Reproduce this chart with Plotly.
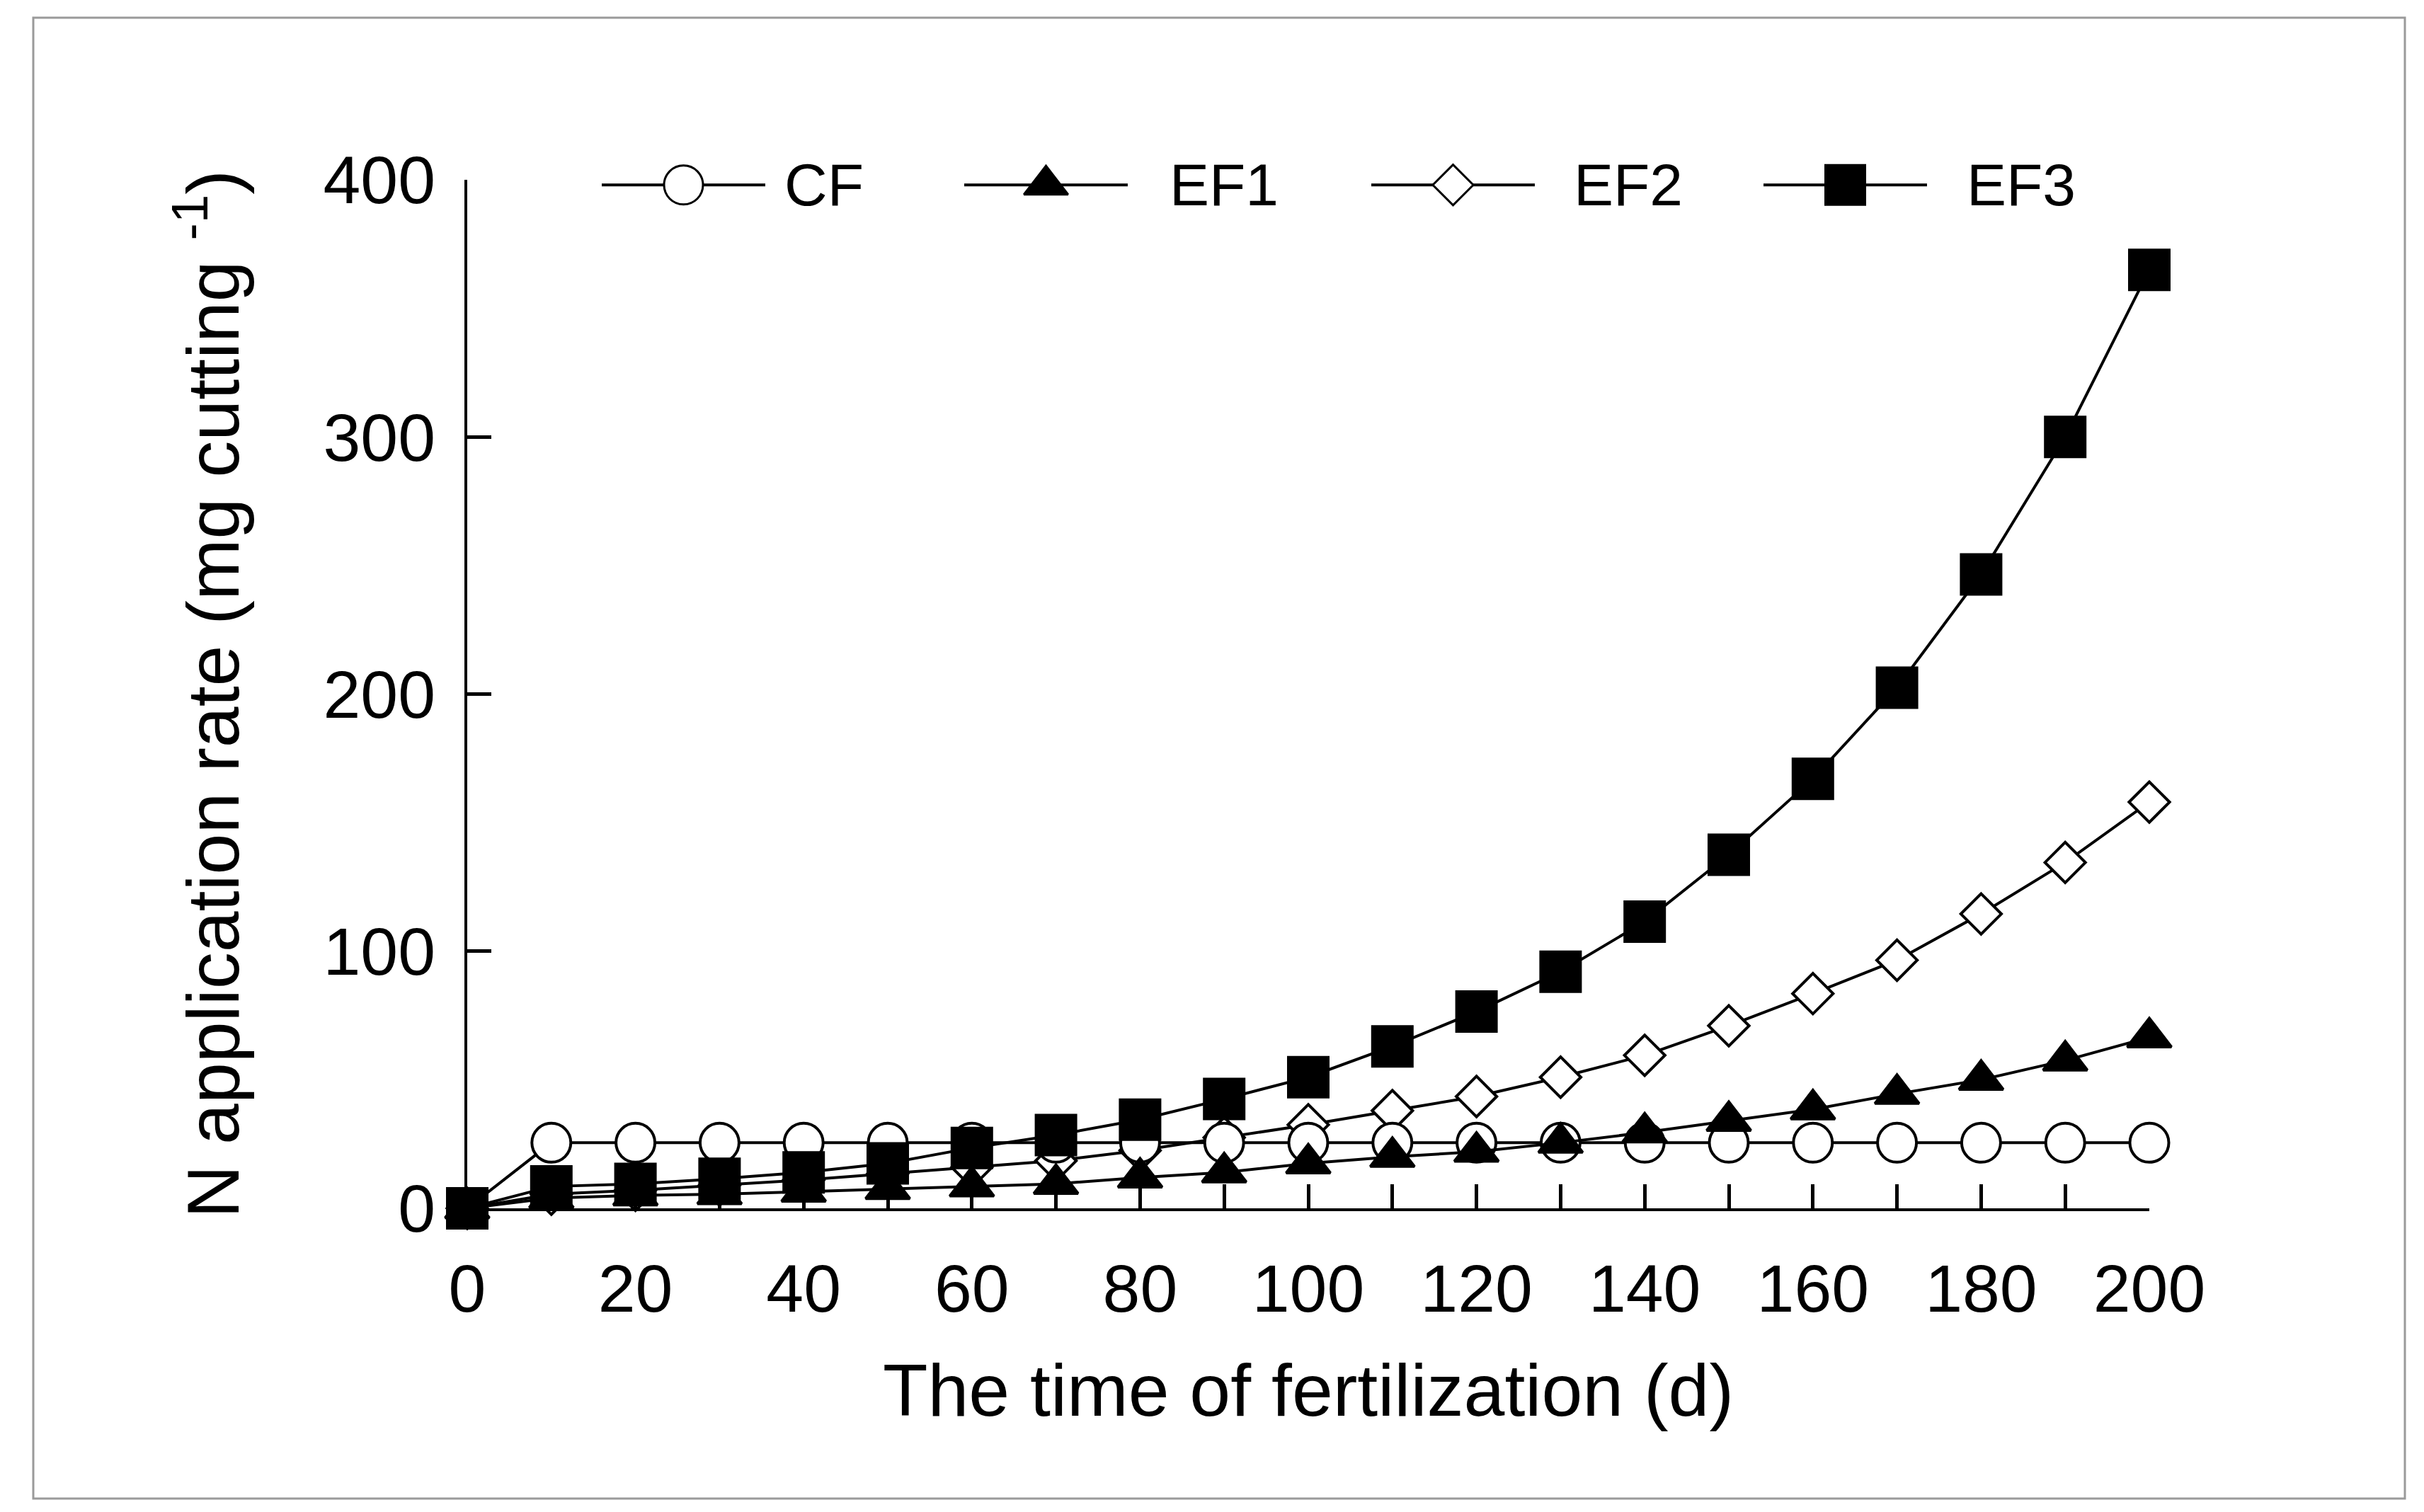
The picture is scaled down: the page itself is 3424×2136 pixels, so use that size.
import plotly.graph_objects as go

# ---------------- data ----------------
days = [0, 10, 20, 30, 40, 50, 60, 70, 80, 90, 100,
        110, 120, 130, 140, 150, 160, 170, 180, 190, 200]
cf = [0, 25.5, 25.5, 25.5, 25.5, 25.5, 25.5, 25.5, 25.5, 25.5, 25.5,
      25.5, 25.5, 25.5, 25.5, 25.5, 25.5, 25.5, 25.5, 25.5, 25.5]
ef1 = [0, 4, 5, 5.5, 6.5, 7.5, 8.5, 9.5, 12, 14, 17.5,
       20, 22, 25.5, 29.5, 34, 38.5, 44.5, 50, 57.5, 66.5]
ef2 = [0, 5.5, 7, 9, 11, 13.5, 16, 18.5, 22.5, 27.5, 32.5,
       38, 43.5, 51, 59.5, 71, 83.5, 96.5, 114.5, 134.5, 158]
ef3 = [0, 8.5, 9.5, 11.5, 14, 17.5, 23.5, 28.5, 34.5, 42.5, 51,
       63, 76.5, 92, 111.5, 137.5, 167, 202.5, 246.5, 300, 365]

series_names = ["CF", "EF1", "EF2", "EF3"]
x_tick_vals = days                      # a tick at every sampling day
x_tick_labels = [str(d) if d % 20 == 0 else "" for d in days]
y_ticks = [0, 100, 200, 300, 400]
X_RANGE = [0, 200]
Y_RANGE = [0, 400]

# ---------------- styles / layout ----------------
W, H = 3424, 2136
L, R, T, B = 652, 396, 246, 437
PW, PH = W - L - R, H - T - B
FONT = "Liberation Sans, Arial, sans-serif"

styles = {
    "CF":  dict(symbol="circle", size=55, color="white"),
    "EF1": dict(symbol="triangle-up", size=54, color="black"),
    "EF2": dict(symbol="diamond", size=44, color="white"),
    "EF3": dict(symbol="square", size=56, color="black"),
}
values = {"CF": cf, "EF1": ef1, "EF2": ef2, "EF3": ef3}

# legend key layout (page pixels)
LEG_LINE_START = [842, 1354, 1929, 2483]
LEG_TEXT_START = [1098, 1642, 2213, 2768]
LEG_LINE_LEN = 231
LEG_Y_FRAC = 0.995

fig = go.Figure()

# draw order (bottom -> top)
for name in ["EF2", "CF", "EF1", "EF3"]:
    st = styles[name]
    fig.add_trace(go.Scatter(
        x=days, y=values[name], name=name, mode="lines+markers",
        line=dict(color="black", width=4),
        marker=dict(symbol=st["symbol"], size=st["size"], color=st["color"],
                    line=dict(color="black", width=4)),
        cliponaxis=False, showlegend=False,
    ))

# ---------------- legend key ----------------
def px_to_x(px):
    f = (px - L) / PW
    return X_RANGE[0] + f * (X_RANGE[1] - X_RANGE[0])

leg_y = Y_RANGE[0] + LEG_Y_FRAC * (Y_RANGE[1] - Y_RANGE[0])
for i, name in enumerate(series_names):
    st = styles[name]
    xs = LEG_LINE_START[i]
    fig.add_trace(go.Scatter(
        x=[px_to_x(xs), px_to_x(xs + LEG_LINE_LEN)], y=[leg_y, leg_y],
        mode="lines", line=dict(color="black", width=4),
        showlegend=False, hoverinfo="skip", cliponaxis=False))
    fig.add_trace(go.Scatter(
        x=[px_to_x(xs + LEG_LINE_LEN / 2)], y=[leg_y], mode="markers",
        marker=dict(symbol=st["symbol"], size=st["size"], color=st["color"],
                    line=dict(color="black", width=3)),
        showlegend=False, hoverinfo="skip", cliponaxis=False))
    fig.add_annotation(
        x=(LEG_TEXT_START[i] - L) / PW, y=LEG_Y_FRAC, xref="paper", yref="paper",
        text=name, showarrow=False, xanchor="left", yanchor="middle",
        font=dict(family=FONT, size=84, color="black"))

# outer grey frame (figure border)
fig.add_shape(type="rect", xref="paper", yref="paper",
              x0=(39 - L) / PW, x1=(3389 - L) / PW,
              y0=(PH + T - 2109) / PH, y1=(PH + T - 17) / PH,
              line=dict(color="#9a9a9a", width=3), fillcolor="rgba(0,0,0,0)",
              layer="below")

axis_common = dict(showgrid=False, zeroline=False, showline=True,
                   linecolor="black", linewidth=4, ticks="inside",
                   ticklen=34, tickwidth=5, tickcolor="black",
                   tickfont=dict(family=FONT, size=95, color="black"))

fig.update_layout(
    width=W, height=H, margin=dict(l=L, r=R, t=T, b=B),
    paper_bgcolor="white", plot_bgcolor="white",
    font=dict(family=FONT, color="black"),
    showlegend=False,
    xaxis=dict(range=X_RANGE, tickmode="array", tickvals=x_tick_vals,
               ticktext=x_tick_labels,
               ticklabelstandoff=28,
               title=dict(text="The time of fertilization (d)",
                          font=dict(family=FONT, size=104), standoff=56),
               **axis_common),
    yaxis=dict(range=Y_RANGE, tickmode="array", tickvals=y_ticks,
               ticktext=[str(v) for v in y_ticks],
               ticklabelstandoff=22,
               title=dict(text="N application rate (mg cutting <sup>-1</sup>)",
                          font=dict(family=FONT, size=104), standoff=85),
               **axis_common),
)

fig.write_html("out.html")
